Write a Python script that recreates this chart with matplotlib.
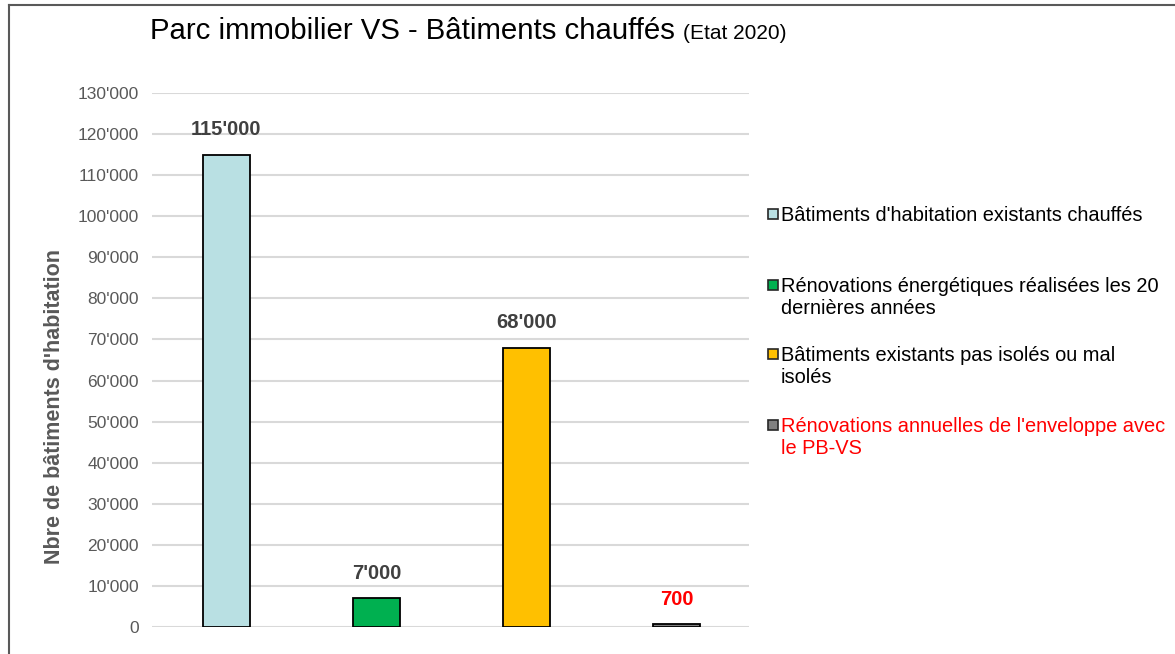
import matplotlib.pyplot as plt
from matplotlib.patches import Rectangle
from matplotlib.lines import Line2D

plt.rcParams['font.family'] = ['Liberation Sans', 'DejaVu Sans']

# donnees
categories = ["Bâtiments d'habitation existants chauffés",
              "Rénovations énergétiques réalisées les 20\ndernières années",
              "Bâtiments existants pas isolés ou mal\nisolés",
              "Rénovations annuelles de l'enveloppe avec\nle PB-VS"]
values = [115000, 7000, 68000, 700]
value_labels = ["115'000", "7'000", "68'000", "700"]
colors = ['#B9E0E3', '#00B050', '#FFC000', '#808080']
label_colors = ['#404040', '#404040', '#404040', '#FF0000']
legend_colors = ['black', 'black', 'black', '#FF0000']
yticks = list(range(0, 130001, 10000))
ytick_labels = ['0'] + ["%d'000" % (v // 1000) for v in yticks[1:]]

fig = plt.figure(figsize=(11.75, 6.54), dpi=100)
ax = fig.add_axes([151.5 / 1175, 27 / 654, 597 / 1175, 534 / 654])

x = range(len(values))
ax.bar(x, values, width=0.31, color=colors, edgecolor='black', linewidth=1.3, zorder=3)
for i, v in enumerate(values):
    ax.annotate(value_labels[i], (i, v), xytext=(0, 11), textcoords='offset points',
                ha='center', va='bottom', fontsize=14.5, fontweight='bold', color=label_colors[i])

ax.set_xlim(-0.5, 3.48)
ax.set_ylim(0, 130000)
ax.set_yticks(yticks)
ax.set_yticklabels(ytick_labels, fontsize=12.5, color='#595959')
ax.set_xticks([])
ax.tick_params(axis='y', length=0, pad=9)
ax.grid(axis='y', color='#D9D9D9', linewidth=1.5, zorder=0)
for s in ax.spines.values():
    s.set_visible(False)

fig.text(55 / 1175, 1 - 407 / 654, "Nbre de bâtiments d'habitation", rotation=90,
         ha='center', va='center', fontsize=15.5, fontweight='bold', color='#595959')

# titre
t = fig.text(150 / 1175, 1 - 39 / 654, "Parc immobilier VS - Bâtiments chauffés",
             fontsize=21.2, color='black', va='baseline')
fig.canvas.draw()
bb = t.get_window_extent()
fig.text((bb.x1 + 8) / 1175, 1 - 39 / 654, "(Etat 2020)", fontsize=15, va='baseline')

# legende
leg_y = [214, 285, 354, 425]
for i, lab in enumerate(categories):
    fig.patches.append(Rectangle((768 / 1175, 1 - (leg_y[i] + 5) / 654), 10 / 1175, 10 / 654,
                                 transform=fig.transFigure, facecolor=colors[i],
                                 edgecolor='#262626', linewidth=1.2))
    for k, line in enumerate(lab.split('\n')):
        fig.text(781 / 1175, 1 - (leg_y[i] + 7 + 22 * k) / 654, line, fontsize=14.4,
                 va='baseline', color=legend_colors[i])

# cadre
fig.add_artist(Line2D([9 / 1175, 1], [1 - 5 / 654, 1 - 5 / 654], color='#595959', linewidth=1.5))
fig.add_artist(Line2D([9 / 1175, 9 / 1175], [0, 1 - 5 / 654], color='#595959', linewidth=1.5))

fig.savefig('out.png', dpi=100)
